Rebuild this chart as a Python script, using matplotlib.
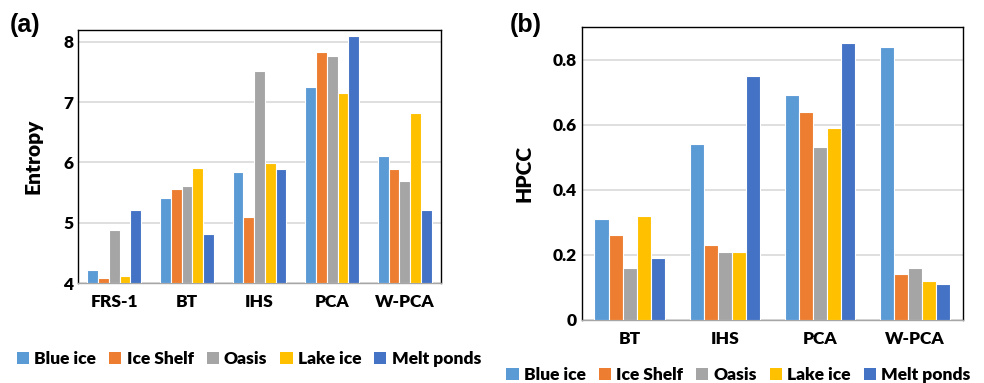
import matplotlib
matplotlib.use("Agg")
import matplotlib.pyplot as plt
import numpy as np
from matplotlib.patches import Patch

plt.rcParams["font.family"] = ["Lato", "DejaVu Sans"]
plt.rcParams["font.weight"] = "heavy"

# ── Data ────────────────────────────────────────────────────────────────
series = ["Blue ice", "Ice Shelf", "Oasis", "Lake ice", "Melt ponds"]
colors = ["#5B9BD5", "#ED7D31", "#A5A5A5", "#FFC000", "#4472C4"]

entropy_methods = ["FRS-1", "BT", "IHS", "PCA", "W-PCA"]
entropy_blue_ice = [4.22, 5.41, 5.84, 7.26, 6.11]
entropy_ice_shelf = [4.09, 5.56, 5.10, 7.83, 5.90]
entropy_oasis = [4.88, 5.61, 7.51, 7.76, 5.69]
entropy_lake_ice = [4.11, 5.91, 5.99, 7.16, 6.82]
entropy_melt_ponds = [5.21, 4.81, 5.89, 8.10, 5.21]

hpcc_methods = ["BT", "IHS", "PCA", "W-PCA"]
hpcc_blue_ice = [0.31, 0.54, 0.69, 0.84]
hpcc_ice_shelf = [0.26, 0.23, 0.64, 0.14]
hpcc_oasis = [0.16, 0.21, 0.53, 0.16]
hpcc_lake_ice = [0.32, 0.21, 0.59, 0.12]
hpcc_melt_ponds = [0.19, 0.75, 0.85, 0.11]

W = "heavy"


def grouped_bars(ax, methods, values, bottom):
    x = np.arange(len(methods))
    slot = 0.148
    for i, (vals, c) in enumerate(zip(values, colors)):
        offs = (i - 2) * slot
        heights = np.array(vals) - bottom
        ax.bar(x + offs, heights, bottom=bottom, width=slot, color=c,
               edgecolor="white", linewidth=0.8, zorder=3)
    ax.set_xticks(x)
    ax.set_xticklabels(methods, fontsize=12.5, fontweight=W)
    ax.set_xlim(-0.5, len(methods) - 0.5)
    ax.tick_params(axis="both", length=0, labelsize=12.5)
    ax.tick_params(axis="x", pad=8)
    ax.yaxis.grid(True, color="#D9D9D9", linewidth=1.2, zorder=0)
    for s in ax.spines.values():
        s.set_color("black")
        s.set_linewidth(1.0)
    ax.spines["bottom"].set_color("#A6A6A6")


fig = plt.figure(figsize=(9.84, 3.83), dpi=100)

# ── (a) Entropy ─────────────────────────────────────────────────────────
ax1 = fig.add_axes([0.0793, 0.261, 0.369, 0.661])
grouped_bars(ax1, entropy_methods,
             [entropy_blue_ice, entropy_ice_shelf, entropy_oasis,
              entropy_lake_ice, entropy_melt_ponds], 4)
ax1.set_ylim(4, 8.2)
ax1.set_yticks([4, 5, 6, 7, 8])
ax1.set_yticklabels(["4", "5", "6", "7", "8"], fontsize=12.5, fontweight=W)
ax1.set_ylabel("Entropy", fontsize=15, fontweight=W, labelpad=15)

# ── (b) HPCC ────────────────────────────────────────────────────────────
ax2 = fig.add_axes([0.5915, 0.1645, 0.387, 0.765])
grouped_bars(ax2, hpcc_methods,
             [hpcc_blue_ice, hpcc_ice_shelf, hpcc_oasis,
              hpcc_lake_ice, hpcc_melt_ponds], 0)
ax2.set_ylim(0, 0.9)
ax2.set_yticks([0, 0.2, 0.4, 0.6, 0.8])
ax2.set_yticklabels(["0", "0.2", "0.4", "0.6", "0.8"], fontsize=12.5,
                    fontweight=W)
ax2.set_ylabel("HPCC", fontsize=15, fontweight=W, labelpad=14)

# panel labels
fig.text(0.010, 0.965, "(a)", fontsize=18, fontweight="bold",
         family=["Liberation Sans", "DejaVu Sans"], va="top")
fig.text(0.518, 0.965, "(b)", fontsize=18, fontweight="bold",
         family=["Liberation Sans", "DejaVu Sans"], va="top")

# legends
handles = [Patch(facecolor=c, edgecolor="none") for c in colors]
for xc, yc in [(0.253, 0.063), (0.7505, 0.021)]:
    fig.legend(handles, series, loc="center", bbox_to_anchor=(xc, yc),
               ncol=5, frameon=False, handlelength=0.7,
               handleheight=0.7, handletextpad=0.3, columnspacing=0.75,
               prop={"weight": W, "size": 12.5})

fig.savefig("out.png", dpi=100)
